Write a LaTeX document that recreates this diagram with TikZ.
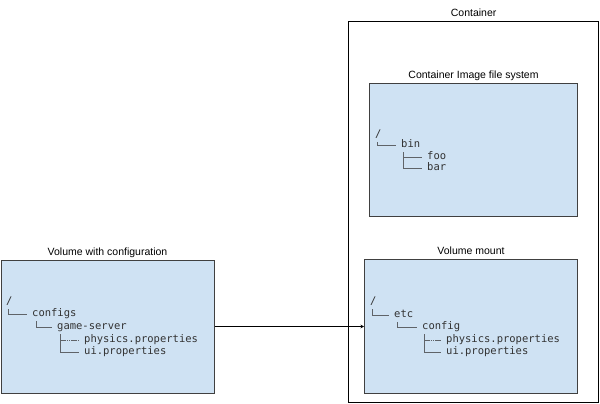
\documentclass[tikz,border=0pt]{standalone}
\usepackage{fontspec}
\setmainfont{Liberation Sans}
\newfontfamily\treefont{DejaVu Sans Mono}
\usetikzlibrary{positioning,arrows.meta}
\definecolor{boxblue}{RGB}{207,226,243}
\definecolor{boxedge}{RGB}{64,64,64}
\definecolor{treeedge}{RGB}{95,99,104}
\definecolor{treetext}{RGB}{50,50,50}
\tikzset{
  fsbox/.style={draw=boxedge,line width=1pt,fill=boxblue,anchor=north west,inner sep=0pt},
  boxtitle/.style={font=\fontsize{10.5}{12}\selectfont,inner sep=1pt,text height=8pt,text depth=2.5pt},
  entry/.style={font=\treefont\fontsize{10.5}{12}\selectfont,text=treetext,anchor=west,inner sep=2pt,text height=7.5pt,text depth=2.5pt},
  treeline/.style={draw=treeedge,line width=1pt,shorten >=3pt},
  dotline/.style={treeline,dash pattern=on 1.5pt off 0.7pt}
}
\begin{document}
\begin{tikzpicture}[x=1pt,y=-1pt]
  \useasboundingbox (0,0) rectangle (600,404);
  % boxes
  \node[draw=black,line width=1.2pt,anchor=north west,minimum width=250pt,minimum height=381pt] (container) at (348,21) {};
  \node[fsbox,minimum width=213pt,minimum height=133pt] (volcfg) at (0.5,259.5) {};
  \node[fsbox,minimum width=208pt,minimum height=133pt] (imagefs) at (369,83) {};
  \node[fsbox,minimum width=213pt,minimum height=134pt] (volmount) at (364,259) {};
  \node[boxtitle,above=0.5pt of container] (containertitle) {Container};
  \node[boxtitle,above=0.5pt of volcfg] (volcfgtitle) {Volume with configuration};
  \node[boxtitle,above=0.5pt of imagefs] (imagefstitle) {Container Image file system};
  \node[boxtitle,above=0.5pt of volmount] (volmounttitle) {Volume mount};
  % volume with configuration
  \node[entry] (cfgroot) at (4,302) {/};
  \node[entry] (cfgconfigs) at (30,314) {configs};
  \node[entry] (cfggame) at (55,327) {game-server};
  \node[entry] (cfgphys) at (82,340) {physics.properties};
  \node[entry] (cfgui) at (82,352) {ui.properties};
  \coordinate (cfgfork) at ([xshift=5pt]cfggame.south west);
  \draw[treeline] ([xshift=-1pt]cfgroot.south) |- (cfgconfigs.west);
  \draw[treeline] ([xshift=6pt]cfgconfigs.south west) |- (cfggame.west);
  \draw[treeline] (cfgfork) |- (cfgui.west);
  \draw[dotline] (cfgfork |- cfgphys.west) -- (cfgphys.west);
  % container image file system
  \node[entry] (imgroot) at (373,135) {/};
  \node[entry] (imgbin) at (399,145) {bin};
  \node[entry] (imgfoo) at (425,157) {foo};
  \node[entry] (imgbar) at (425,168) {bar};
  \coordinate (imgfork) at ([xshift=4pt]imgbin.south west);
  \draw[treeline] ([xshift=-1pt]imgroot.south) |- (imgbin.west);
  \draw[treeline] (imgfork) |- (imgfoo.west);
  \draw[treeline] (imgfork) |- (imgbar.west);
  % volume mount
  \node[entry] (mntroot) at (368,302) {/};
  \node[entry] (mntetc) at (392,315) {etc};
  \node[entry] (mntconfig) at (420,327) {config};
  \node[entry] (mntphys) at (444,340) {physics.properties};
  \node[entry] (mntui) at (444,352) {ui.properties};
  \coordinate (mntfork) at ([xshift=4pt]mntconfig.south west);
  \draw[treeline] ([xshift=-1pt]mntroot.south) |- (mntetc.west);
  \draw[treeline] ([xshift=5pt]mntetc.south west) |- (mntconfig.west);
  \draw[treeline] (mntfork) |- (mntui.west);
  \draw[dotline] (mntfork |- mntphys.west) -- (mntphys.west);
  % mount
  \draw[line width=1pt,-{Stealth[length=3.5pt,width=3.5pt]}] (volcfg.east) -- (volmount.west);
\end{tikzpicture}
\end{document}
